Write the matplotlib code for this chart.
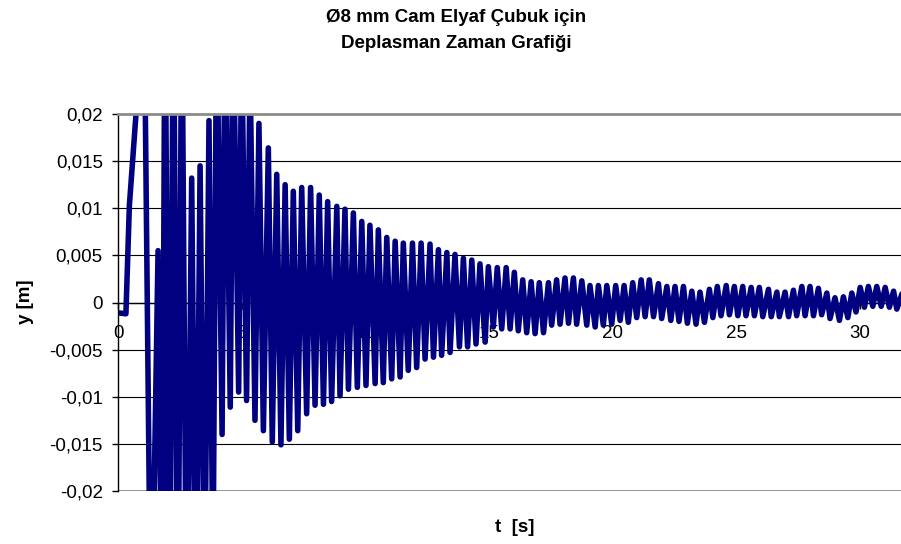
"""Displacement-time plot for the Ø8 mm glass fibre rod (Excel-style chart)."""
import numpy as np
import matplotlib
matplotlib.use("Agg")
import matplotlib.pyplot as plt
import matplotlib.ticker as ticker

# ─────────────────────────────────────────────────────────────────────────────
# Data: turning points of the displacement signal
# (peaks beyond ±0.02 are clipped by the axes, values there are estimates)
# ─────────────────────────────────────────────────────────────────────────────
start_t = [0.00, 0.30, 0.44]
start_v = [-0.0011, -0.0012, 0.0103]

peak_t = [1.04, 1.60, 1.88, 2.22, 2.56, 2.96, 3.30, 3.66, 3.97, 4.31,
          4.64, 4.98, 5.32, 5.68, 6.06, 6.40, 6.74, 7.07, 7.41, 7.77,
          8.12, 8.46, 8.83, 9.16, 9.50, 9.84, 10.17, 10.51, 10.85, 11.19,
          11.52, 11.89, 12.24, 12.60, 12.94, 13.28, 13.61, 13.95, 14.29, 14.62,
          14.96, 15.32, 15.68, 16.01, 16.35, 16.69, 17.02, 17.39, 17.72, 18.06,
          18.40, 18.74, 19.07, 19.41, 19.75, 20.11, 20.45, 20.80, 21.14, 21.47,
          21.84, 22.18, 22.51, 22.85, 23.19, 23.52, 23.90, 24.22, 24.58, 24.91,
          25.25, 25.59, 25.92, 26.29, 26.63, 26.96, 27.30, 27.64, 27.97, 28.31,
          28.65, 28.98, 29.32, 29.66, 30.00, 30.33, 30.67, 31.01, 31.35, 31.70]
peak_v = [0.032, 0.0055, 0.036, 0.036, 0.034, 0.0132, 0.0145, 0.0193, 0.032, 0.032,
          0.030, 0.028, 0.025, 0.0190, 0.0164, 0.0136, 0.0125, 0.0118, 0.0122, 0.0122,
          0.0114, 0.0107, 0.0102, 0.0099, 0.0095, 0.0086, 0.0082, 0.0077, 0.0069, 0.0065,
          0.0063, 0.0063, 0.0063, 0.0062, 0.0056, 0.0053, 0.0051, 0.0047, 0.0045, 0.0041,
          0.0038, 0.0037, 0.0037, 0.0032, 0.0024, 0.0022, 0.0021, 0.0021, 0.0024, 0.0026,
          0.0026, 0.0023, 0.0018, 0.0018, 0.0018, 0.0018, 0.0018, 0.0021, 0.0024, 0.0024,
          0.0020, 0.0017, 0.0017, 0.0017, 0.0012, 0.0011, 0.0014, 0.0017, 0.0018, 0.0017,
          0.0017, 0.0016, 0.0016, 0.0014, 0.0011, 0.0011, 0.0013, 0.0017, 0.0017, 0.0015,
          0.0010, 0.0005, 0.0006, 0.0010, 0.0016, 0.0017, 0.0017, 0.0016, 0.0012, 0.0010]

trough_t = [1.32, 1.76, 2.06, 2.40, 2.76, 3.13, 3.48, 3.82, 4.19, 4.52,
            4.86, 5.18, 5.52, 5.86, 6.22, 6.57, 6.91, 7.25, 7.61, 7.95,
            8.29, 8.62, 8.96, 9.30, 9.66, 10.01, 10.38, 10.71, 11.05, 11.39,
            11.72, 12.06, 12.40, 12.74, 13.07, 13.41, 13.79, 14.12, 14.46, 14.83,
            15.16, 15.50, 15.84, 16.17, 16.51, 16.85, 17.19, 17.52, 17.86, 18.20,
            18.53, 18.94, 19.28, 19.61, 19.95, 20.29, 20.62, 20.96, 21.30, 21.64,
            21.97, 22.34, 22.67, 23.01, 23.36, 23.70, 24.04, 24.37, 24.71, 25.05,
            25.38, 25.72, 26.06, 26.40, 26.73, 27.10, 27.43, 27.77, 28.11, 28.44,
            28.78, 29.16, 29.50, 29.83, 30.17, 30.51, 30.85, 31.18, 31.48]
trough_v = [-0.040, -0.038, -0.040, -0.040, -0.040, -0.036, -0.034, -0.030, -0.0140, -0.0111,
            -0.0095, -0.0104, -0.0125, -0.0136, -0.0148, -0.0151, -0.0145, -0.0136, -0.0118, -0.0109,
            -0.0108, -0.0105, -0.0099, -0.0092, -0.0090, -0.0088, -0.0086, -0.0085, -0.0081, -0.0079,
            -0.0072, -0.0069, -0.0060, -0.0058, -0.0056, -0.0053, -0.0047, -0.0047, -0.0044, -0.0042,
            -0.0026, -0.0028, -0.0028, -0.0030, -0.0032, -0.0033, -0.0032, -0.0024, -0.0023, -0.0022,
            -0.0023, -0.0024, -0.0026, -0.0024, -0.0023, -0.0019, -0.0021, -0.0016, -0.0015, -0.0015,
            -0.0017, -0.0019, -0.0020, -0.0022, -0.0023, -0.0021, -0.0016, -0.0014, -0.0013, -0.0014,
            -0.0014, -0.0014, -0.0015, -0.0015, -0.0015, -0.0015, -0.0014, -0.0014, -0.0014, -0.0013,
            -0.0017, -0.0019, -0.0016, -0.0010, -0.0005, -0.0004, -0.0004, -0.0005, -0.0007]

x_ticks = [0, 5, 10, 15, 20, 25, 30]
y_ticks = [-0.02, -0.015, -0.01, -0.005, 0.0, 0.005, 0.01, 0.015, 0.02]

title_lines = ["Ø8 mm Cam Elyaf Çubuk için", "Deplasman Zaman Grafiği"]
x_label = "t  [s]"
y_label = "y [m]"

# merge the turning points into one time-ordered series
t = np.array(start_t + peak_t + trough_t)
y = np.array(start_v + peak_v + trough_v)
order = np.argsort(t)
t, y = t[order], y[order]

# ─────────────────────────────────────────────────────────────────────────────
# Figure
# ─────────────────────────────────────────────────────────────────────────────
plt.rcParams["font.family"] = ["Liberation Sans", "DejaVu Sans"]
FS = 13.5

fig = plt.figure(figsize=(9.01, 5.44), dpi=100, facecolor="white")
ax = fig.add_axes([118.5 / 901, 53 / 544, 782.5 / 901, 377 / 544])

# horizontal gridlines below the signal
for gy in y_ticks[1:-1]:
    ax.axhline(gy, color="black", lw=0.8, zorder=1)
ax.axhline(-0.02, color="#8c8c8c", lw=2.0, zorder=1)

ax.plot(t, y, color="#000080", lw=4.0, solid_joinstyle="round",
        solid_capstyle="round", zorder=2)

ax.set_xlim(0, 31.65)
ax.set_ylim(-0.02, 0.02)

ax.spines["right"].set_visible(False)
ax.spines["top"].set_color("#8c8c8c")
ax.spines["top"].set_linewidth(2.0)
ax.spines["left"].set_color("black")
ax.spines["left"].set_linewidth(1.0)
ax.spines["bottom"].set_position(("data", 0))
ax.spines["bottom"].set_color("black")
ax.spines["bottom"].set_linewidth(1.0)
ax.spines["bottom"].set_zorder(1)

ax.set_xticks(x_ticks)
ax.set_yticks(y_ticks)
ax.yaxis.set_major_formatter(ticker.FuncFormatter(
    lambda v, _: ("%g" % round(v, 4)).replace(".", ",")))
ax.tick_params(axis="y", direction="out", length=4.3, width=1.0,
               pad=7, labelsize=FS, colors="black")
ax.tick_params(axis="x", direction="out", length=4, width=1.0,
               pad=12, labelsize=FS, colors="black")

fig.text(456 / 901, 1 - 18 / 544, title_lines[0], ha="center", va="center",
         fontsize=FS, fontweight="bold")
fig.text(456 / 901, 1 - 44 / 544, title_lines[1], ha="center", va="center",
         fontsize=FS, fontweight="bold")
fig.text(25 / 901, 1 - 302 / 544, y_label, rotation=90, ha="center", va="center",
         fontsize=FS, fontweight="bold")
fig.text(515 / 901, 1 - 527 / 544, x_label, ha="center", va="center",
         fontsize=FS, fontweight="bold")

fig.savefig("out.png", dpi=100, facecolor="white")
print("saved → out.png")
